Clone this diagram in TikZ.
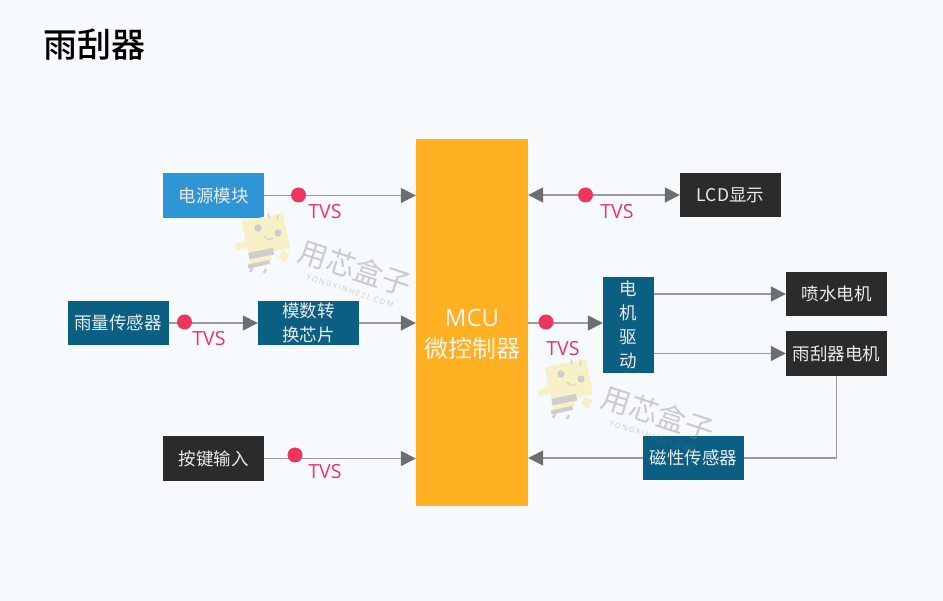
\documentclass[tikz,border=0pt]{standalone}
\usepackage{fontspec}
\setmainfont{Open Sans}
\newfontfamily\cjk{Noto Sans CJK SC}
\usetikzlibrary{arrows.meta}
\definecolor{tealbox}{HTML}{0B5F82}
\definecolor{bluebox}{HTML}{2F96D6}
\definecolor{darkbox}{HTML}{2B2B2B}
\definecolor{mcuorange}{HTML}{FDB022}
\definecolor{dotred}{HTML}{EE3560}
\definecolor{linegray}{HTML}{9A9A9A}
\definecolor{tipgray}{HTML}{6E6E6E}
\definecolor{pagetint}{HTML}{F6FAFD}
\definecolor{wmgray}{HTML}{808080}
\definecolor{botgray}{HTML}{CDCDCD}
\definecolor{botyellow}{HTML}{F8F0C6}
\tikzset{
 blockbase/.style={draw=none,minimum height=44.5pt,minimum width=101pt,inner sep=0pt,text=white!92!black,font=\cjk\fontsize{17.5}{24}\selectfont,align=center},
 teal/.style={blockbase,fill=tealbox},
 blue/.style={blockbase,fill=bluebox},
 dark/.style={blockbase,fill=darkbox},
 conn/.style={draw=linegray,line width=1.6pt,-{Triangle[length=15pt,width=15pt,color=tipgray]}},
 plainconn/.style={draw=linegray,line width=1.6pt},
 twoway/.style={draw=linegray,line width=1.6pt,{Triangle[length=15pt,width=15pt,color=tipgray]}-{Triangle[length=15pt,width=15pt,color=tipgray]}},
 tvsdot/.style={circle,fill=dotred,minimum size=15pt,inner sep=0pt},
 tvs/.style={text=dotred,font=\fontsize{19.5}{22}\selectfont,inner sep=0pt},
 wmtext/.style={text=wmgray,text opacity=0.38,inner sep=0pt,rotate=-18},
}
\newcommand{\watermark}[2]{%
 \begin{scope}[shift={(#1,#2)}]
  \fill[botyellow,rotate around={12:(265,235)}] (245,217) rectangle (287,253);
  \fill[botgray] (258,228) circle (3.6pt) (278,233) circle (3.6pt);
  \draw[botgray,line width=1pt] (264,236) .. controls (267,240) and (270,240) .. (273,238);
  \draw[botgray,line width=1pt] (269,218) -- (268,213) (277,220) -- (278,215);
  \fill[botyellow,rotate around={20:(241,245)}] (235,242) rectangle (249,249);
  \fill[botyellow,rotate around={-30:(284,256)}] (280,252) rectangle (288,261);
  \fill[botgray,rotate around={12:(263,255)}] (249,250) rectangle (274,257);
  \fill[botyellow,rotate around={12:(262,261)}] (250,257) rectangle (272,262);
  \fill[botgray,rotate around={12:(260,265)}] (248,262) rectangle (270,266);
  \draw[botgray,line width=2.4pt] (253,266) -- (250,272) (266,269) -- (264,273);
  \node[wmtext,font=\cjk\fontsize{29}{30}\selectfont] at (355,268) {用芯盒子};
  \node[wmtext,font=\fontsize{7.5}{8}\selectfont] at (350,291) {\addfontfeature{LetterSpace=22}YONGXINHEZI.COM};
 \end{scope}}
\begin{document}
\begin{tikzpicture}[x=1pt,y=-1pt]
\useasboundingbox (0,0) rectangle (943,601);
\fill[pagetint] (0,0) rectangle (943,601);
\node[inner sep=0pt,font=\cjk\fontsize{34}{38}\selectfont,text=black] (title) at (94,45) {\fontspec{Noto Sans CJK SC Medium}雨刮器};
\node[fill=mcuorange,minimum width=112pt,minimum height=367pt,inner sep=0pt] (mcu) at (472,322.5) {};
\node[inner sep=0pt,text=white!95!black,align=center,font=\cjk\fontsize{24}{31}\selectfont] (mculabel) at (472,334) {\fontspec{Open Sans}MCU\\微控制器};
\node[blue] (pwr) at (213.5,195.5) {电源模块};
\node[dark] (lcd) at (730.5,195) {LCD显示};
\node[teal] (rain) at (118,323) {雨量传感器};
\node[teal] (adc) at (308.5,323) {模数转\\换芯片};
\node[teal,minimum width=51pt,minimum height=96pt] (drv) at (628.5,325) {电\\机\\驱\\动};
\node[dark] (spray) at (836.5,294) {喷水电机};
\node[dark] (wiper) at (836.5,353.5) {雨刮器电机};
\node[dark] (key) at (213.5,458.5) {按键输入};
\node[teal] (mag) at (693.5,458) {磁性传感器};
\coordinate (wipecorner) at (wiper.south |- mag.east);
\draw[conn] (pwr.east) -- (pwr.east -| mcu.west);
\draw[twoway] (lcd.west -| mcu.east) -- (lcd.west);
\draw[conn] (rain.east) -- (adc.west);
\draw[conn] (adc.east) -- (adc.east -| mcu.west);
\draw[conn] ([yshift=2pt]drv.west -| mcu.east) -- ([yshift=2pt]drv.west);
\draw[conn] (spray.west -| drv.east) -- (spray.west);
\draw[conn] (wiper.west -| drv.east) -- (wiper.west);
\draw[conn] (key.east) -- (key.east -| mcu.west);
\draw[plainconn] (wiper.south) -- (wipecorner) -- (mag.east);
\draw[conn] (mag.west) -- (mag.west -| mcu.east);
\node[tvsdot] (d1) at (298.5,195) {};
\node[tvsdot] (d2) at (585.5,195) {};
\node[tvsdot] (d3) at (184.5,322) {};
\node[tvsdot] (d4) at (546,322) {};
\node[tvsdot] (d5) at (295,455) {};
\node[tvs] (t1) at (325,212) {TVS};
\node[tvs] (t2) at (617,212) {TVS};
\node[tvs] (t3) at (209,339) {TVS};
\node[tvs] (t4) at (563,349) {TVS};
\node[tvs] (t5) at (325,472) {TVS};
\watermark{0}{0}
\watermark{303}{146}
\end{tikzpicture}
\end{document}
